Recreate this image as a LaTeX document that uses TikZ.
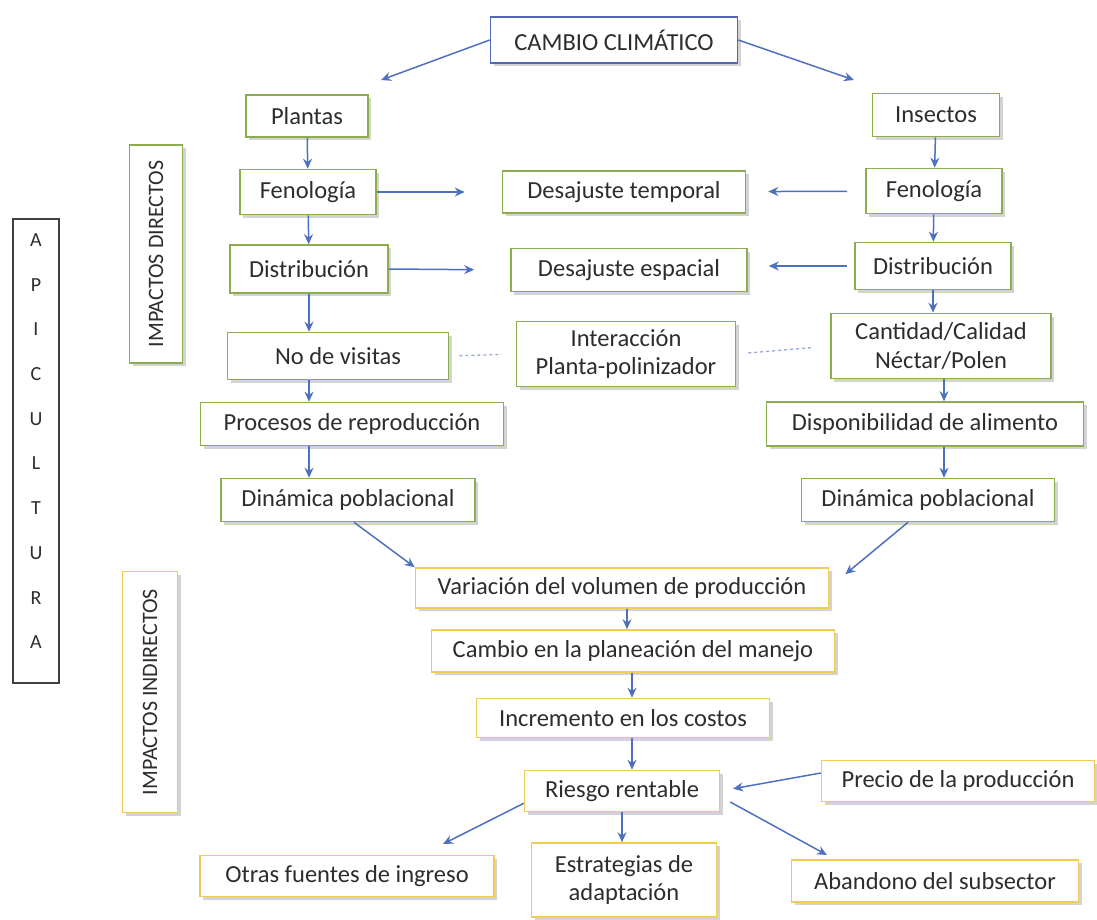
\documentclass[tikz,border=0pt]{standalone}
\usepackage{fontspec}
\setmainfont{Carlito}
\usetikzlibrary{arrows.meta,shadows}

\definecolor{verde}{RGB}{140,172,80}
\definecolor{amarillo}{RGB}{242,203,85}
\definecolor{azul}{RGB}{82,104,178}
\definecolor{flecha}{RGB}{78,112,190}
\definecolor{texto}{RGB}{45,45,45}

\tikzset{
  caja/.style={draw, line width=1.6pt, fill=white, text=texto, align=center, inner sep=0pt,
    font=\fontsize{24.5}{28.5}\selectfont,
    drop shadow={shadow xshift=3pt, shadow yshift=-3pt, opacity=0.35}},
  cverde/.style={caja, draw=verde},
  camar/.style={caja, draw=amarillo},
  cazul/.style={caja, draw=azul},
  tam/.style 2 args={minimum width=#1pt, minimum height=#2pt},
  flec/.style={draw=flecha, line width=1.5pt, -{Stealth[length=10pt,width=9pt]}},
  punteada/.style={draw=flecha!60, line width=1.3pt, dashed},
  letra/.style={text=texto, font=\fontsize{20}{20}\selectfont},
}

\begin{document}
\begin{tikzpicture}[x=1pt, y=-1pt]
    \useasboundingbox (0,0) rectangle (1097,919);

    \node[cazul, tam={247}{46}] (cambio) at (614,40) {CAMBIO CLIMÁTICO};

    % Impactos directos
    \node[cverde, tam={122}{42}] (plantas) at (307,116) {Plantas};
    \node[cverde, tam={136}{45}] (fenL) at (308,192) {Fenología};
    \node[cverde, tam={158}{48}] (distL) at (309,269) {Distribución};
    \node[cverde, tam={221}{47}] (visitas) at (338,356) {No de visitas};
    \node[cverde, tam={303}{43}] (procesos) at (352,424) {Procesos de reproducción};
    \node[cverde, tam={254}{43}] (dinL) at (348,500) {Dinámica poblacional};

    \node[cverde, tam={243}{42}] (dtemp) at (624,192) {Desajuste temporal};
    \node[cverde, tam={236}{43}] (desp) at (629,270) {Desajuste espacial};
    \node[cverde, tam={219}{65}] (interac) at (626,354) {Interacción\\Planta-polinizador};

    \node[cverde, tam={127}{43}] (insectos) at (936,115) {Insectos};
    \node[cverde, tam={136}{45}] (fenR) at (934,191) {Fenología};
    \node[cverde, tam={156}{47}] (distR) at (933,266) {Distribución};
    \node[cverde, tam={220}{65}] (cantidad) at (941,346) {Cantidad/Calidad\\Néctar/Polen};
    \node[cverde, tam={317}{44}] (dispo) at (925,424) {Disponibilidad de alimento};
    \node[cverde, tam={253}{43}] (dinR) at (928,500) {Dinámica poblacional};

    % Impactos indirectos
    \node[camar, tam={413}{40}] (variacion) at (622,588) {Variación del volumen de producción};
    \node[camar, tam={403}{42}] (plan) at (633,651) {Cambio en la planeación del manejo};
    \node[camar, tam={293}{39}] (incremento) at (623,718) {Incremento en los costos};
    \node[camar, tam={195}{41}] (riesgo) at (622,791) {Riesgo rentable};
    \node[camar, tam={273}{41}] (precio) at (958,781) {Precio de la producción};
    \node[camar, tam={294}{41}] (otras) at (347,876) {Otras fuentes de ingreso};
    \node[camar, tam={185}{74}] (estrategias) at (624,880) {Estrategias de\\adaptación};
    \node[camar, tam={287}{42}] (abandono) at (935,881) {Abandono del subsector};

    \node[cverde, tam={53}{218}, font=\fontsize{22}{22}\selectfont] (impdir) at (156,254)
        {\rotatebox{90}{IMPACTOS DIRECTOS}};
    \node[camar, tam={55}{241}, font=\fontsize{22}{22}\selectfont] (impind) at (150,692)
        {\rotatebox{90}{IMPACTOS INDIRECTOS}};

    \node[draw=black!75, line width=1.3pt, minimum width=46pt, minimum height=464pt] (apic) at (36,451) {};
    \foreach \l [count=\i] in {A,P,I,C,U,L,T,U,R,A}
        \node[letra] (let\i) at (36,{240+44.7*(\i-1)}) {\l};

    % flechas
    \coordinate (cpl) at (381,80);
    \coordinate (cin) at (854,80);
    \draw[flec] (cambio.west) -- (cpl);
    \draw[flec] (cambio.east) -- (cin);

    \draw[flec] (plantas) -- (fenL);
    \draw[flec] (fenL) -- (distL);
    \draw[flec] (distL.south) -- (distL.south |- visitas.north);
    \draw[flec] (visitas.south -| distL.south) -- (procesos.north -| distL.south);
    \draw[flec] (procesos.south -| distL.south) -- (dinL.north -| distL.south);

    \draw[flec] (insectos) -- (fenR);
    \draw[flec] (fenR) -- (distR);
    \draw[flec] (distR.south) -- (distR.south |- cantidad.north);
    \draw[flec] ([xshift=3pt]cantidad.south) -- ([xshift=3pt]cantidad.south |- dispo.north);
    \draw[flec] ([xshift=3pt]cantidad.south |- dispo.south) -- ([xshift=3pt]cantidad.south |- dinR.north);

    \draw[flec, shorten >=37pt] (fenL) -- (dtemp);
    \draw[flec, shorten >=36pt] (distL.east) -- (desp.west);
    \draw[flec, shorten <=18pt, shorten >=22pt] (fenR) -- (dtemp);
    \draw[flec, shorten <=7pt, shorten >=21pt] (distR.west) -- (distR.west -| desp.east);

    \draw[punteada, shorten <=10pt, shorten >=14pt] (visitas.east) -- (interac.west);
    \draw[punteada, shorten <=12pt, shorten >=18pt] (interac.east) -- (cantidad.west);

    \draw[flec] ([xshift=6pt]dinL.south) -- (variacion.north west);
    \draw[flec] ([xshift=-20pt]dinR.south) -- ([shift={(16,7)}]variacion.north east);

    \draw[flec] ([xshift=5pt]variacion.south) -- ([xshift=5pt]variacion.south |- plan.north);
    \draw[flec] ([xshift=9pt]incremento.north |- plan.south) -- ([xshift=9pt]incremento.north);
    \draw[flec] ([xshift=9pt]incremento.south) -- ([xshift=9pt]incremento.south |- riesgo.north);
    \draw[flec] (riesgo.south) -- (riesgo.south |- estrategias.north);

    \coordinate (potras) at (443,844);
    \coordinate (paband) at (827,855);
    \draw[flec, shorten >=13pt] ([yshift=8pt]precio.west) -- (riesgo.east);
    \draw[flec] ([shift={(0,-9)}]riesgo.south west) -- (potras);
    \draw[flec] ([shift={(10,11)}]riesgo.east) -- (paband);
\end{tikzpicture}
\end{document}
